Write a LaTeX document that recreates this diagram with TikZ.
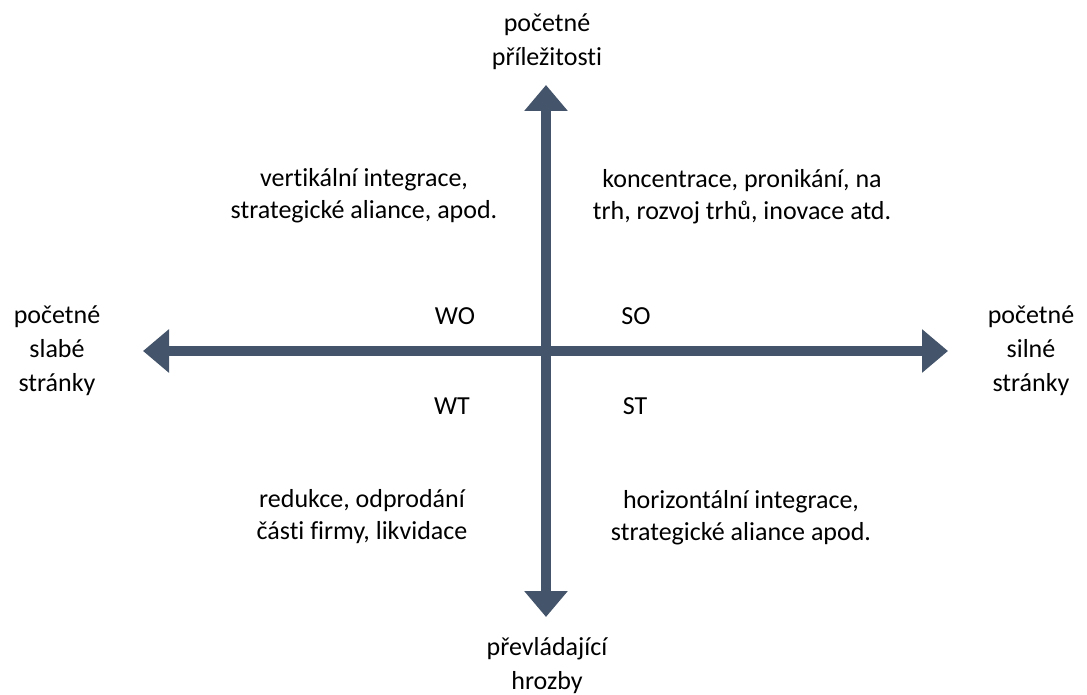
\documentclass[tikz,border=0pt]{standalone}
\usepackage{fontspec}
\setmainfont{Carlito}[Ligatures=NoCommon]
\usetikzlibrary{arrows.meta}
\definecolor{axiscol}{HTML}{44546A}
\begin{document}
\begin{tikzpicture}[x=1pt,y=-1pt,
  axis/.style={draw=axiscol,line width=10.5pt,{Triangle[length=26pt,width=42pt]}-{Triangle[length=26pt,width=42pt]}},
  lbl/.style={align=center,inner sep=0pt,font=\fontsize{26pt}{32pt}\selectfont,text=black},
  axlbl/.style={lbl,font=\fontsize{26pt}{34pt}\selectfont}]
\useasboundingbox (0,0) rectangle (1087,695);
\coordinate (L) at (143,351);
\coordinate (R) at (948,351);
\coordinate (T) at (546,85);
\coordinate (B) at (546,617);
\draw[axis] (L) -- (R);
\draw[axis] (T) -- (B);
\node[axlbl] (top) at (547,42) {početné\\příležitosti};
\node[axlbl] (bot) at (547,666) {převládající\\hrozby};
\node[axlbl] (left) at (57,351) {početné\\slabé\\stránky};
\node[axlbl] (right) at (1031,351) {početné\\silné\\stránky};
\node[lbl] (wo) at (455,316) {WO};
\node[lbl] (so) at (636,316) {SO};
\node[lbl] (wt) at (452,406) {WT};
\node[lbl] (st) at (635,406) {ST};
\node[lbl] (q2) at (364,196) {vertikální integrace,\\strategické aliance, apod.};
\node[lbl] (q1) at (742,197) {koncentrace, pronikání, na\\trh, rozvoj trhů, inovace atd.};
\node[lbl] (q3) at (362,517) {redukce, odprodání\\části firmy, likvidace};
\node[lbl] (q4) at (741,518) {horizontální integrace,\\strategické aliance apod.};
\end{tikzpicture}
\end{document}
